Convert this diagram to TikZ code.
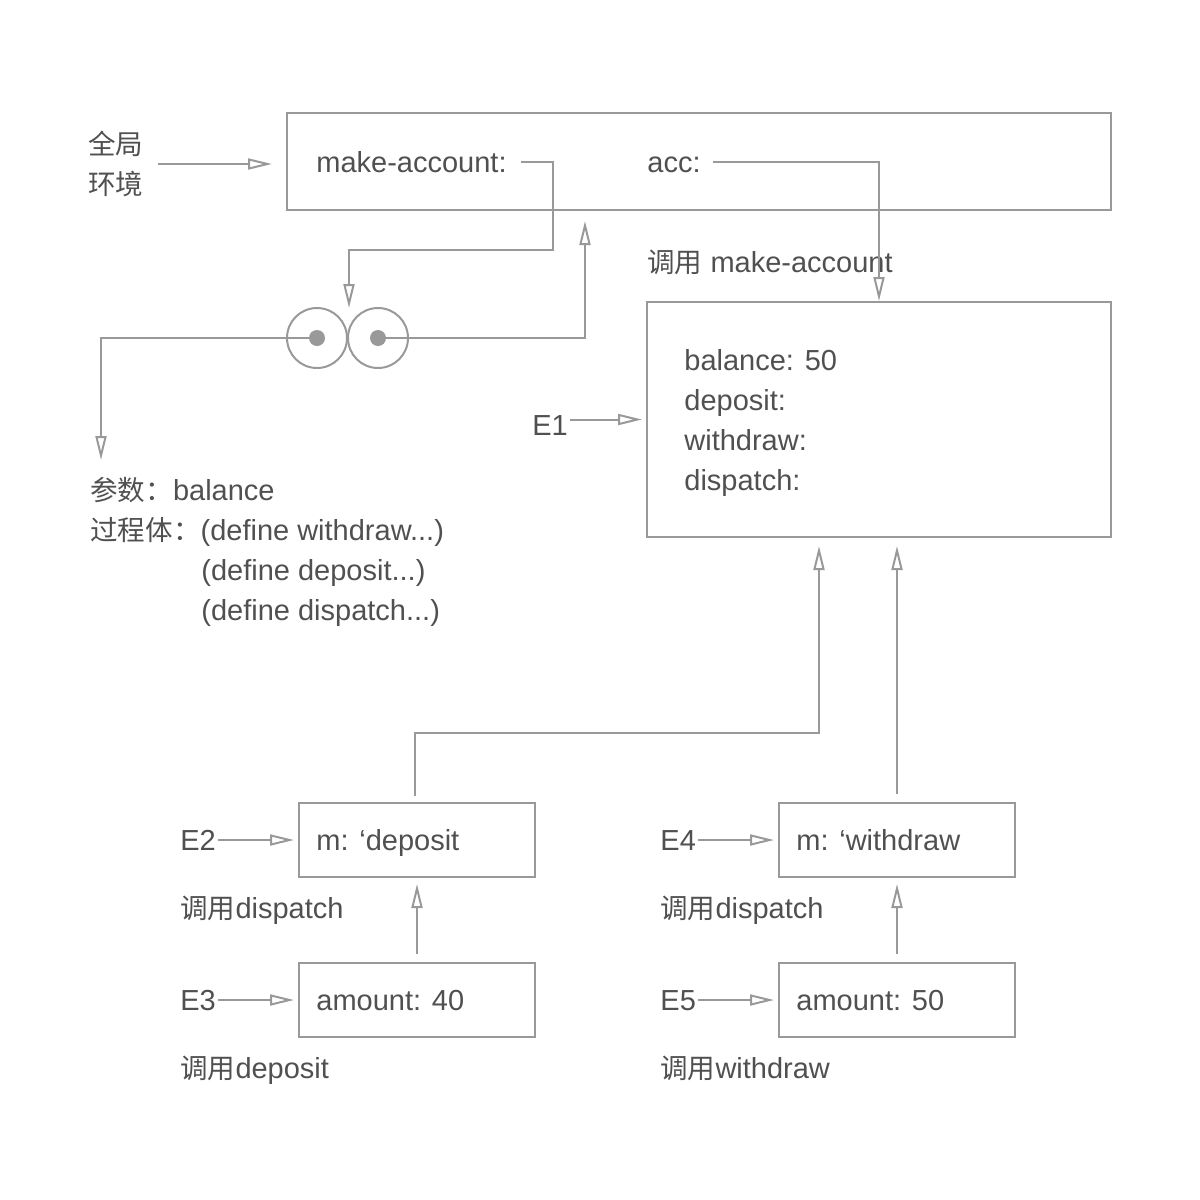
\documentclass[tikz,border=0pt]{standalone}
\usepackage{fontspec}
\setmainfont{Liberation Sans}
\newfontfamily\cjk{Noto Sans CJK SC}[Scale=0.95]
\usetikzlibrary{arrows.meta,positioning}
\definecolor{linegray}{HTML}{999999}
\definecolor{textgray}{HTML}{505050}

\begin{document}
\begin{tikzpicture}[x=0.5pt, y=-0.5pt, frame/.style={draw=linegray, line width=1pt, inner sep=0pt}, lbl/.style={text=textgray, font=\fontsize{14.5}{20}\selectfont, anchor=base west, inner sep=0pt}, ring/.style={draw=linegray, line width=1pt, circle, minimum size=30pt, inner sep=0pt}, dot/.style={fill=linegray, circle, minimum size=8pt, inner sep=0pt}, n/.style={-{Triangle[open, length=12pt, width=5.5pt]}, draw=linegray, line width=1pt}]
            \useasboundingbox (0,0) rectangle (1200,1200);
            % frames
            \node[frame, minimum width=412pt, minimum height=48.5pt] (glob) at (699,161.5) {};
            \node[frame, minimum width=232pt, minimum height=117.5pt] (e1) at (879,419.5) {};
            \node[frame, minimum width=118pt, minimum height=37pt] (e2) at (417,840) {};
            \node[frame, minimum width=118pt, minimum height=37pt] (e3) at (417,1000) {};
            \node[frame, minimum width=118pt, minimum height=37pt] (e4) at (897,840) {};
            \node[frame, minimum width=118pt, minimum height=37pt] (e5) at (897,1000) {};
            % procedure object
            \node[ring] (cl) at (317,338) {};
            \node[ring] (cr) at (378,338) {};
            \node[dot] (dl) at (cl) {};
            \node[dot] (dr) at (cr) {};
            % labels
            \node[lbl, anchor=west, align=left] (genv) at (88,164) {\cjk 全局\\\cjk 环境};
            \node[lbl] (ma) at (316,172) {make-account:};
            \node[lbl] (acc) at (647,172) {acc:};
            \node[lbl] (call) at (647,272) {{\cjk 调用} make-account};
            \node[lbl] (e1l) at (532,435) {E1};
            \node[lbl] (bal) at (684,370) {balance: 50};
            \node[lbl] (dep) at (684,410) {deposit:};
            \node[lbl] (wd) at (684,450) {withdraw:};
            \node[lbl] (disp) at (684,490) {dispatch:};
            \node[lbl] (params) at (90,500) {{\cjk 参数：}balance};
            \node[lbl] (body) at (90,540) {{\cjk 过程体：}(define withdraw...)};
            \node[lbl] (bodyb) at (201,580) {(define deposit...)};
            \node[lbl] (bodyc) at (201,620) {(define dispatch...)};
            \node[lbl] (e2l) at (180,850) {E2};
            \node[lbl] (e2t) at (316,850) {m: ‘deposit};
            \node[lbl] (e2c) at (180,918) {{\cjk 调用}dispatch};
            \node[lbl] (e3l) at (180,1010) {E3};
            \node[lbl] (e3t) at (316,1010) {amount: 40};
            \node[lbl] (e3c) at (180,1078) {{\cjk 调用}deposit};
            \node[lbl] (e4l) at (660,850) {E4};
            \node[lbl] (e4t) at (796,850) {m: ‘withdraw};
            \node[lbl] (e4c) at (660,918) {{\cjk 调用}dispatch};
            \node[lbl] (e5l) at (660,1010) {E5};
            \node[lbl] (e5t) at (796,1010) {amount: 50};
            \node[lbl] (e5c) at (660,1078) {{\cjk 调用}withdraw};
            % helper points
            \coordinate (pairtop) at (349,308);
            \coordinate (bend) at (553,250);
            \coordinate (envx) at (585,0);
            \coordinate (paramtop) at (101,460);
            \coordinate (join) at (819,733);
            % edges
            \draw[n, shorten <=7pt, shorten >=7pt] (genv) -- (genv -| glob.west);
            \draw[n, shorten <=7pt] (ma.east |- glob) -| (bend) -| (pairtop);
            \draw[n, shorten <=6pt] (acc.east |- glob) -| (e1.north);
            \draw[n, shorten >=5pt] (dr.center) -| (glob.south -| envx);
            \draw[n] (dl.center) -| (paramtop);
            \draw[n, shorten <=1pt, shorten >=2pt] (e1l.east |- e1) -- (e1.west);
            \draw[n, shorten <=1pt, shorten >=2pt] (e2l.east |- e2) -- (e2.west);
            \draw[n, shorten <=1pt, shorten >=2pt] (e3l.east |- e3) -- (e3.west);
            \draw[n, shorten <=1pt, shorten >=2pt] (e4l.east |- e4) -- (e4.west);
            \draw[n, shorten <=1pt, shorten >=2pt] (e5l.east |- e5) -- (e5.west);
            \draw[n, shorten <=4pt, shorten >=3pt] (e3.north) -- (e2.south);
            \draw[n, shorten <=4pt, shorten >=3pt] (e5.north) -- (e4.south);
            \draw[n, shorten <=3pt, shorten >=4pt] ([xshift=-1pt]e2.north) |- (join) -- (join |- e1.south);
            \draw[n, shorten <=4pt, shorten >=4pt] (e4.north) -- (e1.south -| e4.north);
        \end{tikzpicture}
\end{document}
